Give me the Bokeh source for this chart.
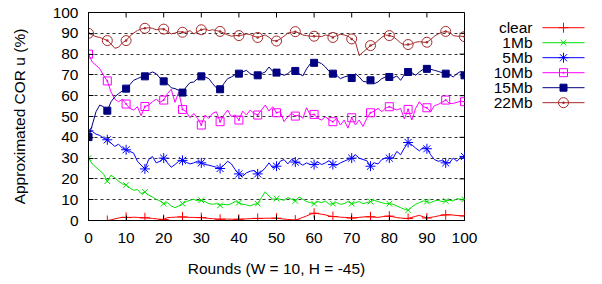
from bokeh.plotting import figure
from bokeh.layouts import row
from bokeh.models import Range1d, FixedTicker
from bokeh.core.properties import value
from bokeh.embed import file_html
from bokeh.resources import INLINE

# ---------------- data ----------------
rounds = list(range(101))
series_names = ["clear", "1Mb", "5Mb", "10Mb", "15Mb", "22Mb"]

clear = [0, 0, 0, 0, 0, 0, 0.3, 0.8, 1.2, 1.5, 1.5, 1.4, 1.6, 1.5, 1.3, 1.3, 1.2, 1.0, 0.8, 0.6,
         0.5, 1.4, 1.5, 1.6, 1.7, 1.7, 1.6, 1.5, 1.5, 1.4, 1.4, 1.2, 1.0, 0.9, 0.7, 0.6, 0.7, 0.7, 0.6, 0.6,
         0.6, 0.7, 0.8, 0.9, 1.0, 1.0, 1.0, 1.1, 1.1, 1.1, 1.1, 0.9, 0.7, 0.5, 0.3, 0.2, 0.8, 1.5, 2.2, 3.0,
         3.5, 3.3, 3.0, 2.7, 2.2, 1.9, 1.8, 1.6, 1.5, 1.4, 1.2, 1.3, 1.5, 1.7, 1.8, 1.8, 1.6, 1.5, 1.8, 2.0,
         2.1, 1.8, 1.4, 1.2, 1.0, 1.0, 1.5, 2.0, 2.5, 1.8, 1.2, 1.5, 1.8, 2.2, 2.5, 2.7, 2.8, 2.6, 2.4, 2.3,
         2.2]
mb1 = [30.0, 27.2, 25.6, 24.0, 22.4, 18.9, 21.8, 20.5, 18.9, 17.6, 17.0, 15.7, 14.5, 14.9, 12.9, 13.7, 12.2, 11.3, 10.2, 9.4,
       8.1, 8.6, 7.0, 6.2, 7.0, 8.1, 9.1, 9.7, 10.2, 9.4, 9.7, 9.1, 8.1, 7.8, 8.1, 7.3, 7.8, 7.5, 8.1, 9.1,
       8.6, 7.8, 7.5, 7.0, 7.8, 8.1, 11.0, 13.8, 11.8, 10.2, 10.5, 10.2, 9.7, 11.0, 10.2, 9.4, 11.3, 10.2, 9.1, 8.6,
       8.1, 9.1, 8.6, 9.4, 7.8, 8.1, 8.6, 7.8, 8.1, 9.1, 8.1, 8.6, 9.1, 8.1, 8.6, 9.1, 9.7, 9.1, 8.6, 8.1,
       8.1, 7.8, 7.0, 6.2, 5.4, 4.9, 6.5, 7.8, 8.6, 9.4, 9.1, 8.6, 9.4, 9.7, 9.1, 9.4, 9.7, 9.4, 10.5, 10.2,
       10.2]
mb5 = [43.1, 42.8, 41.5, 40.9, 39.6, 38.8, 37.2, 35.6, 36.7, 34.8, 34.0, 33.2, 32.4, 28.5, 26.6, 24.8, 29.3, 30.8, 27.7, 28.5,
       30.0, 27.7, 25.6, 26.9, 28.5, 28.9, 28.0, 27.2, 27.7, 28.5, 27.7, 26.9, 26.6, 26.1, 25.6, 25.0, 26.6, 28.5, 27.2, 24.5,
       22.4, 21.3, 22.9, 23.7, 24.0, 22.4, 23.4, 25.3, 27.7, 25.3, 26.1, 28.5, 29.3, 27.2, 29.3, 28.1, 27.7, 26.6, 27.7, 26.9,
       26.9, 28.1, 26.9, 27.7, 28.8, 26.9, 26.6, 27.7, 28.5, 29.3, 30.0, 31.6, 30.0, 29.3, 28.8, 26.1, 27.7, 27.2, 29.3, 30.0,
       30.0, 30.0, 33.2, 31.6, 34.8, 37.5, 36.4, 34.8, 33.5, 35.1, 34.5, 31.6, 29.3, 28.5, 28.8, 27.7, 27.7, 30.0, 28.5, 30.4,
       30.8]
mb10 = [80.0, 76.2, 74.6, 73.0, 69.8, 67.1, 61.8, 58.3, 57.1, 58.3, 56.0, 53.9, 53.1, 54.7, 50.4, 54.8, 55.5, 57.1, 58.3, 56.8,
        57.9, 61.0, 63.1, 56.8, 61.8, 53.4, 52.3, 49.4, 51.5, 49.1, 45.9, 50.7, 49.1, 51.5, 52.3, 47.5, 50.7, 53.1, 49.9, 50.7,
        48.3, 52.6, 50.7, 53.1, 51.5, 50.7, 53.1, 55.5, 52.6, 54.7, 51.8, 52.3, 47.5, 49.9, 51.5, 50.2, 50.7, 49.1, 54.2, 50.7,
        51.0, 49.1, 48.3, 49.9, 48.3, 47.5, 49.1, 45.9, 48.3, 44.4, 49.4, 45.9, 48.3, 45.2, 49.1, 51.8, 52.6, 53.9, 52.3, 54.0,
        54.7, 53.9, 53.1, 53.9, 48.8, 53.4, 48.3, 53.9, 57.1, 54.7, 54.2, 52.3, 55.2, 55.8, 56.8, 57.9, 56.3, 56.3, 56.8, 57.4,
        57.1]
mb15 = [40.1, 45.9, 52.3, 55.5, 54.7, 52.8, 57.1, 59.5, 61.0, 62.3, 63.4, 65.3, 67.4, 68.2, 69.0, 69.3, 70.6, 71.4, 70.6, 68.5,
        66.9, 65.8, 63.8, 63.4, 62.6, 61.5, 64.2, 66.3, 66.6, 68.2, 69.3, 69.0, 68.2, 65.8, 63.8, 63.1, 65.8, 68.2, 69.0, 70.1,
        70.6, 71.4, 72.2, 70.6, 69.8, 69.8, 70.6, 71.4, 73.8, 71.7, 71.1, 70.6, 69.8, 70.6, 72.2, 71.9, 70.6, 69.5, 72.9, 75.4,
        75.8, 76.2, 75.4, 73.8, 71.7, 70.6, 69.8, 68.2, 69.0, 69.5, 68.5, 70.6, 69.0, 66.9, 66.6, 67.4, 65.8, 66.6, 68.2, 69.0,
        69.0, 68.5, 69.5, 67.4, 70.1, 71.4, 71.1, 69.8, 71.4, 72.7, 72.9, 72.7, 72.2, 71.7, 71.1, 70.6, 70.1, 69.0, 70.6, 71.7,
        69.8]
mb22 = [90.0, 89.2, 88.4, 88.0, 87.3, 86.5, 84.9, 82.8, 83.3, 85.4, 86.5, 88.6, 90.1, 91.3, 92.1, 92.4, 92.7, 92.4, 91.7, 92.1,
        92.0, 91.0, 89.7, 90.1, 90.8, 90.5, 90.5, 91.3, 89.7, 90.8, 91.7, 92.1, 91.3, 91.7, 91.3, 90.9, 90.1, 89.2, 88.6, 88.9,
        88.9, 89.2, 89.7, 89.4, 88.6, 88.0, 88.6, 89.2, 88.1, 86.5, 86.3, 87.3, 88.6, 90.1, 90.5, 90.8, 90.1, 89.2, 88.9, 88.6,
        88.6, 88.6, 88.4, 89.2, 88.9, 88.0, 88.9, 89.5, 89.2, 88.6, 87.3, 85.7, 79.3, 80.9, 82.5, 84.1, 84.9, 86.5, 88.1, 89.2,
        88.9, 88.4, 87.0, 85.4, 84.4, 84.6, 84.9, 85.7, 86.0, 85.7, 85.7, 87.0, 88.6, 89.7, 90.5, 90.9, 90.5, 88.9, 88.6, 88.6,
        88.4]

x_ticks = [0, 10, 20, 30, 40, 50, 60, 70, 80, 90, 100]
y_ticks = [0, 10, 20, 30, 40, 50, 60, 70, 80, 90, 100]
x_label = "Rounds (W = 10, H = -45)"
y_label = "Approximated COR u (%)"

# ---------------- styles ----------------
colors = ["#ff0000", "#00e000", "#0000ff", "#ff00ff", "#000080", "#a52a2a"]
markers = ["cross", "x", "asterisk", "square_dot", "square", "circle_dot"]
msizes = [10, 8, 10, 8, 7, 10]
filled = [False, False, False, False, True, False]
all_series = [clear, mb1, mb5, mb10, mb15, mb22]
FONT = "Liberation Sans"
FS = "15.5px"

p = figure(width=478, height=283, output_backend="svg", toolbar_location=None,
           x_range=Range1d(0, 100), y_range=Range1d(0, 100),
           min_border_left=88, min_border_right=14, min_border_top=12, min_border_bottom=63)
p.background_fill_color = "white"
p.border_fill_color = "white"
p.outline_line_color = "black"
p.outline_line_width = 1

for ax, tk in ((p.xaxis[0], x_ticks), (p.yaxis[0], y_ticks)):
    ax.ticker = FixedTicker(ticks=tk)
    ax.major_tick_in = 5
    ax.major_tick_out = 0
    ax.minor_tick_line_color = None
    ax.axis_line_color = "black"
    ax.major_tick_line_color = "black"
    ax.major_label_text_font = FONT
    ax.major_label_text_font_size = FS
    ax.major_label_text_color = "black"
    ax.axis_label_text_font = FONT
    ax.axis_label_text_font_size = FS
    ax.axis_label_text_font_style = "normal"
    ax.axis_label_text_color = "black"

p.xaxis.axis_label = x_label
p.yaxis.axis_label = y_label
p.xaxis.major_label_standoff = 12
p.xaxis.axis_label_standoff = 14
p.yaxis.major_label_standoff = 10
p.yaxis.axis_label_standoff = 22

# mirrored inward ticks on the top and right edges of the frame
tick_dy = 5 * 100 / 208.0
tick_dx = 5 * 100 / 376.0
p.segment(x0=x_ticks, y0=[y_ticks[-1]] * len(x_ticks), x1=x_ticks,
          y1=[y_ticks[-1] - tick_dy] * len(x_ticks), line_color="black", line_width=1)
p.segment(x0=[x_ticks[-1]] * len(y_ticks), y0=y_ticks, x1=[x_ticks[-1] - tick_dx] * len(y_ticks),
          y1=y_ticks, line_color="black", line_width=1)

p.xgrid.grid_line_color = None
p.ygrid.ticker = FixedTicker(ticks=y_ticks[1:-1])
p.ygrid.grid_line_color = "#333333"
p.ygrid.grid_line_dash = "3 3"
p.ygrid.grid_line_width = 1

for name, ys, c, m, s, f in zip(series_names, all_series, colors, markers, msizes, filled):
    p.line(rounds, ys, line_color=c, line_width=1)
    p.scatter(rounds[::5], ys[::5], marker=m, size=s, line_color=c, line_width=1,
              fill_color=c if f else None)

# ---------------- legend figure ----------------
leg = figure(width=116, height=283, output_backend="svg", toolbar_location=None,
             x_range=Range1d(0, 116), y_range=Range1d(283, 0),
             x_axis_type=None, y_axis_type=None,
             min_border_left=0, min_border_right=0, min_border_top=0, min_border_bottom=0)
leg.outline_line_color = None
leg.xgrid.grid_line_color = None
leg.ygrid.grid_line_color = None
leg.background_fill_color = "white"
leg.border_fill_color = "white"

ly = [20.7 + 20.4 * i for i in range(len(series_names))]
leg.text(x=[54] * len(series_names), y=ly, text=series_names, text_align="right",
         text_baseline="middle", text_font=value(FONT), text_font_size=FS, text_color="black")
for yy, c, m, s, f in zip(ly, colors, markers, msizes, filled):
    leg.line([64, 106], [yy, yy], line_color=c, line_width=1)
    leg.scatter([85], [yy], marker=m, size=s, line_color=c, line_width=1,
                fill_color=c if f else None)

layout = row(p, leg)
open("out.html", "w").write(file_html(layout, INLINE))
